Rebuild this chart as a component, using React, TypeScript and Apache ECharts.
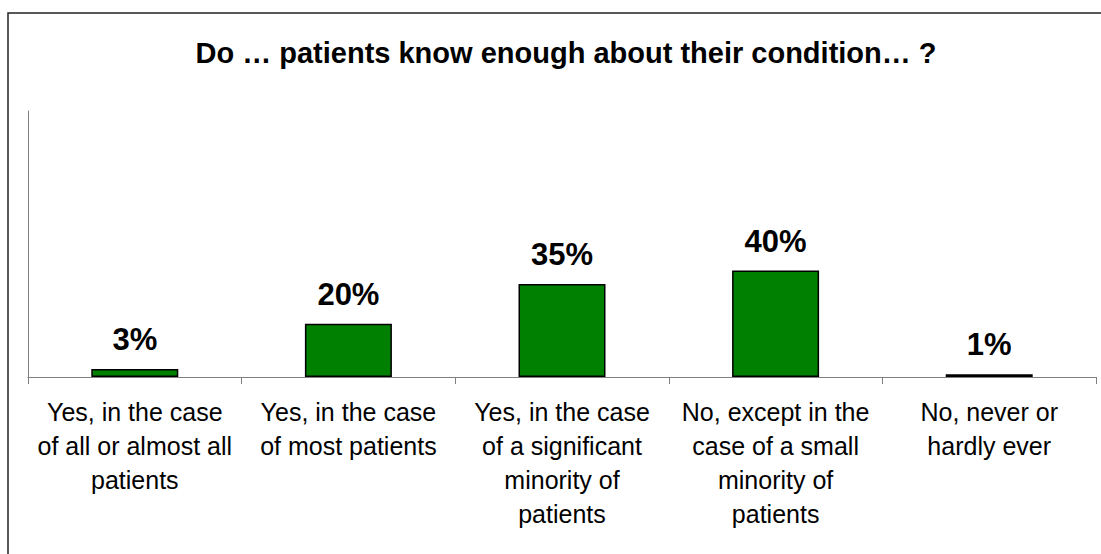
import React, { useEffect, useRef } from "react";
import * as echarts from "echarts";

const titleText = "Do … patients know enough about their condition… ?";
const categories = [
  "Yes, in the case\nof all or almost all\npatients",
  "Yes, in the case\nof most patients",
  "Yes, in the case\nof a significant\nminority of\npatients",
  "No, except in the\ncase of a small\nminority of\npatients",
  "No, never or\nhardly ever",
];
const values = [3, 20, 35, 40, 1];

const FONT = "'Liberation Sans', Arial, sans-serif";

export default function App() {
  const ref = useRef<HTMLDivElement>(null);
  useEffect(() => {
    if (!ref.current) return;
    const chart = echarts.init(ref.current, undefined, { renderer: "svg" });
    chart.setOption({
      animation: false,
      backgroundColor: "#ffffff",
      title: {
        text: titleText,
        left: 561,
        top: 33,
        textAlign: "center",
        textStyle: { fontFamily: FONT, fontSize: 29, fontWeight: "bold", color: "#000" },
      },
      graphic: [
        {
          type: "rect",
          shape: { x: 8, y: 13, width: 1300, height: 700 },
          style: { fill: "none", stroke: "#222", lineWidth: 1.5 },
          silent: true,
          z: 100,
        },
      ],
      grid: { left: 28, right: 5, top: 111, bottom: 177, containLabel: false },
      xAxis: {
        type: "category",
        data: categories,
        axisLine: { show: true, lineStyle: { color: "#808080", width: 1 } },
        axisTick: { show: true, length: 7, lineStyle: { color: "#808080" } },
        axisLabel: {
          interval: 0,
          margin: 18,
          fontFamily: FONT,
          fontSize: 25,
          lineHeight: 34,
          color: "#000",
          align: "center",
        },
      },
      yAxis: {
        type: "value",
        min: 0,
        max: 100,
        axisLine: { show: true, lineStyle: { color: "#808080", width: 1 } },
        axisTick: { show: false },
        axisLabel: { show: false },
        splitLine: { show: false },
      },
      series: [
        {
          type: "bar",
          data: values,
          barWidth: 87,
          itemStyle: { color: "#008000", borderColor: "#000", borderWidth: 1.5 },
          label: {
            show: true,
            position: "top",
            distance: 14,
            formatter: "{c}%",
            fontFamily: FONT,
            fontSize: 31,
            fontWeight: "bold",
            color: "#000",
          },
        },
      ],
    });
    return () => chart.dispose();
  }, []);
  return (
    <div
      ref={ref}
      style={{ position: "fixed", left: 0, top: 0, width: 1101, height: 554 }}
    />
  );
}
